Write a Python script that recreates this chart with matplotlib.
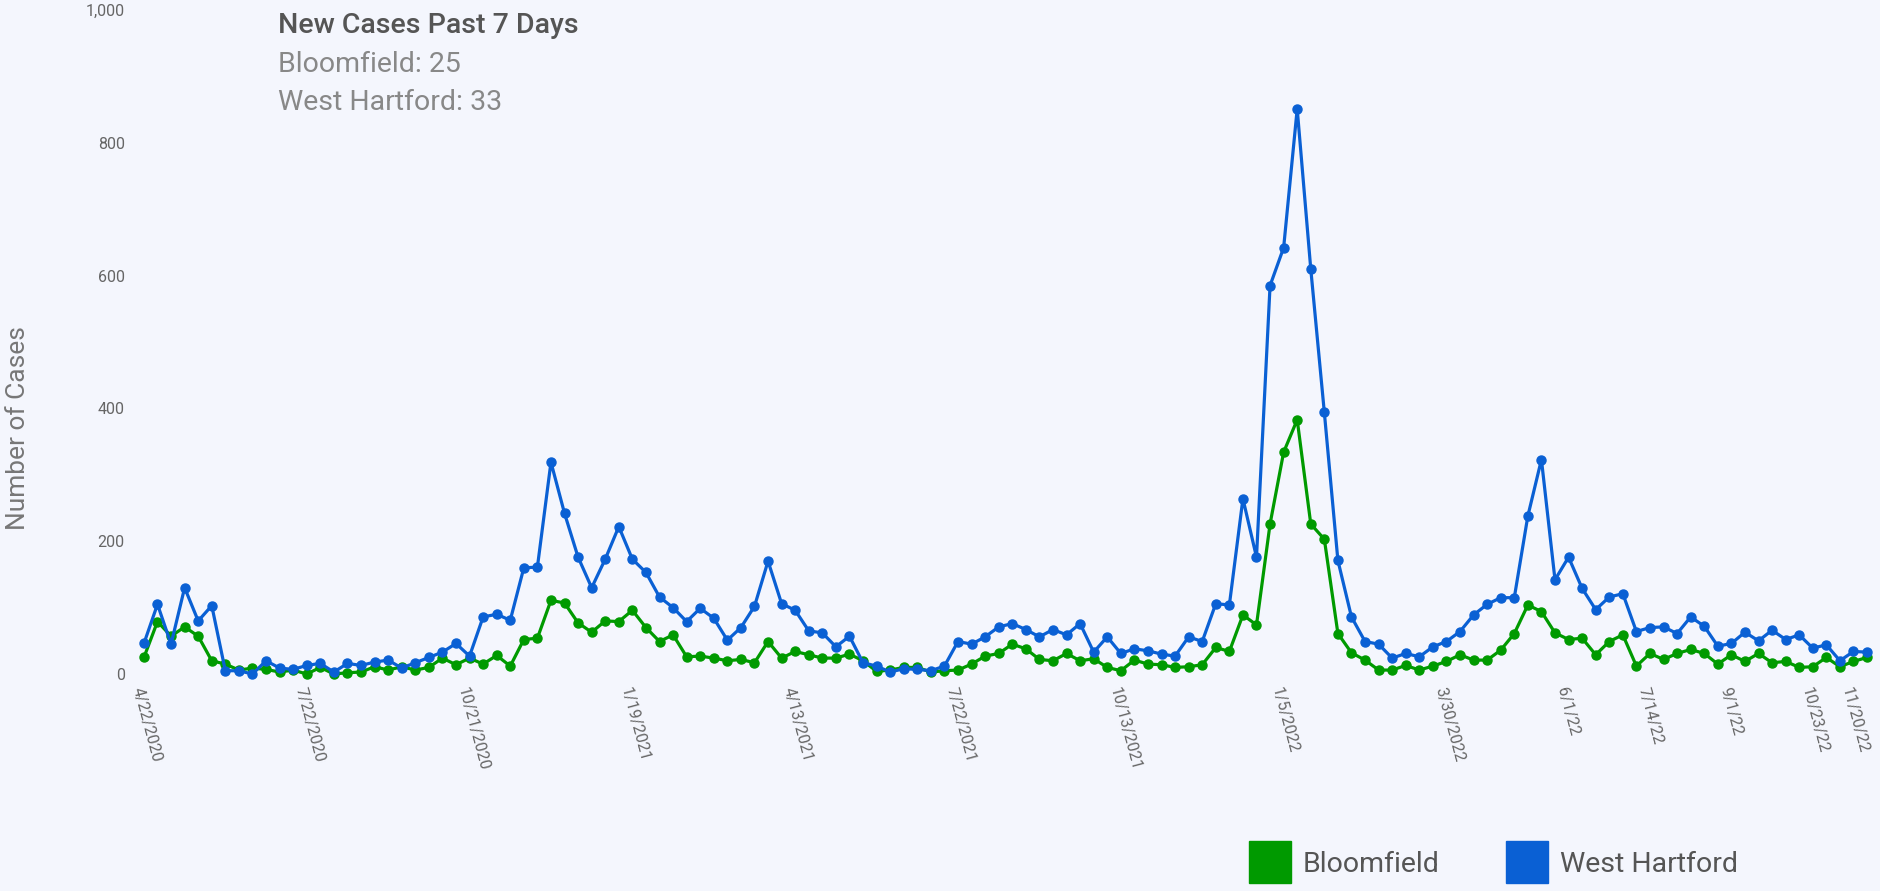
import numpy as np
import matplotlib.pyplot as plt
from matplotlib.lines import Line2D
from matplotlib.ticker import FuncFormatter

plt.rcParams['font.family'] = ['Roboto', 'DejaVu Sans']

# weekly points, 4/22/2020 .. 11/20/22
bloomfield = [25, 79, 57, 71, 57, 20, 15, 6, 9, 7, 3, 6, 0, 10, 0, 2, 3, 11, 6, 11,
              6, 10, 24, 14, 24, 15, 28, 12, 52, 54, 111, 107, 77, 63, 80, 79, 96, 70, 49, 59,
              26, 27, 24, 20, 22, 17, 49, 24, 34, 29, 24, 24, 30, 20, 4, 6, 10, 10, 3, 5,
              6, 15, 27, 31, 45, 38, 22, 20, 31, 20, 23, 10, 5, 21, 15, 14, 10, 11, 14, 40,
              34, 89, 74, 226, 334, 383, 226, 203, 61, 32, 21, 6, 6, 13, 6, 12, 19, 29, 21, 21,
              36, 61, 104, 94, 62, 52, 54, 29, 49, 59, 12, 31, 22, 31, 37, 31, 15, 29, 19, 31,
              17, 19, 10, 11, 25, 11, 19, 25]
west_hartford = [46, 105, 45, 130, 80, 103, 5, 5, 0, 20, 9, 7, 13, 16, 3, 16, 13, 18, 21, 9,
                 17, 25, 33, 46, 27, 86, 90, 81, 160, 161, 319, 242, 176, 130, 173, 222, 173, 153, 116, 100,
                 79, 99, 84, 51, 70, 102, 170, 106, 96, 65, 62, 41, 57, 17, 12, 3, 8, 7, 5, 12,
                 49, 45, 56, 71, 76, 67, 56, 67, 59, 76, 33, 56, 31, 38, 35, 30, 27, 56, 49, 106,
                 104, 264, 176, 585, 642, 851, 610, 394, 171, 86, 49, 45, 24, 31, 26, 41, 49, 64, 89, 105,
                 115, 115, 238, 323, 142, 176, 129, 97, 116, 121, 64, 70, 71, 61, 86, 72, 42, 46, 63, 50,
                 66, 52, 59, 39, 44, 20, 34, 33]

tick_pos = [0, 12, 24, 36, 48, 60, 72, 84, 96, 105, 111, 117, 123, 126]
tick_labels = ['4/22/2020', '7/22/2020', '10/21/2020', '1/19/2021', '4/13/2021', '7/22/2021',
               '10/13/2021', '1/5/2022', '3/30/2022', '6/1/22', '7/14/22', '9/1/22',
               '10/23/22', '11/20/22']

green = '#009a00'
blue = '#0a60d4'
bg = '#f4f6fd'

fig = plt.figure(figsize=(18.81, 8.91), dpi=100, facecolor=bg)
ax = fig.add_axes([0.0693, 0.2435, 0.9305, 0.7453])
ax.set_facecolor(bg)

x = np.arange(len(bloomfield))
ax.plot(x, bloomfield, color=green, lw=2.3, marker='o', ms=6.5, clip_on=False, zorder=3)
ax.plot(x, west_hartford, color=blue, lw=2.3, marker='o', ms=6.5, clip_on=False, zorder=4)

ax.set_xlim(-1, len(x))
ax.set_ylim(0, 1000)
ax.set_yticks([0, 200, 400, 600, 800, 1000])
ax.yaxis.set_major_formatter(FuncFormatter(lambda v, p: f'{int(v):,}'))
ax.set_xticks(tick_pos)
ax.set_xticklabels(tick_labels, rotation=-75, ha='left', va='top', rotation_mode='anchor')
ax.tick_params(axis='both', length=0, labelsize=11.5, labelcolor='#666666')
ax.tick_params(axis='y', pad=4)
ax.tick_params(axis='x', pad=8)
for s in ax.spines.values():
    s.set_visible(False)

fig.text(0.0096, 0.52, 'Number of Cases', rotation=90, ha='center', va='center',
         fontsize=19, color='#777777')

fig.text(0.148, 0.971, 'New Cases Past 7 Days', fontsize=20.5, color='#555555',
         fontweight='medium', va='center')
fig.text(0.148, 0.928, 'Bloomfield: 25', fontsize=20.5, color='#888888', va='center')
fig.text(0.148, 0.885, 'West Hartford: 33', fontsize=20.5, color='#888888', va='center')

handles = [Line2D([], [], ls='none', marker='s', ms=30, color=green),
           Line2D([], [], ls='none', marker='s', ms=30, color=blue)]
fig.legend(handles, ['Bloomfield', 'West Hartford'], loc='center left',
           bbox_to_anchor=(0.6462, 0.03), ncol=2, frameon=False, fontsize=20.5,
           labelcolor='#555555', handletextpad=0.15, columnspacing=2.1)

fig.savefig('out.png', dpi=100, facecolor=bg)
